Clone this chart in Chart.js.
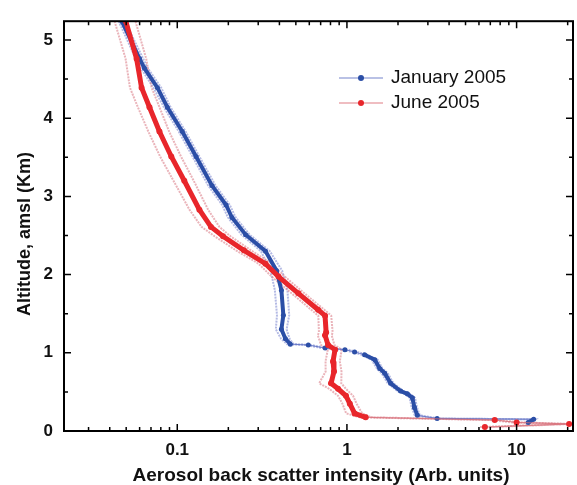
<!DOCTYPE html>
<html lang="en">
<head>
<meta charset="UTF-8">
<title>Aerosol back scatter profiles</title>
<script src="https://cdn.jsdelivr.net/npm/chart.js"></script>
<style>
    body { margin: 0; background: #fff; }
    canvas { display: block; }
</style>
</head>
<body>
<canvas id="profileChart" width="577" height="485"></canvas>
<script>
    // January 2005 profile (altitude in km, intensity in arb. units)
    const janAlt = [5.35, 5.24, 4.76, 4.64, 4.39, 4.14, 3.83, 3.51, 3.14, 2.89, 2.73, 2.51, 2.30, 2.05, 1.80, 1.48, 1.30, 1.18, 1.11, 1.10, 1.06, 1.04, 1.01, 0.975, 0.91, 0.80, 0.74, 0.61, 0.51, 0.475, 0.425, 0.30, 0.20, 0.16, 0.15, 0.11];
    const janVal = [0.045, 0.0471, 0.060, 0.064, 0.0764, 0.0874, 0.107, 0.129, 0.160, 0.194, 0.210, 0.253, 0.331, 0.385, 0.411, 0.422, 0.411, 0.434, 0.464, 0.592, 0.744, 0.973, 1.11, 1.27, 1.46, 1.56, 1.67, 1.81, 2.07, 2.27, 2.43, 2.50, 2.60, 3.40, 12.6, 11.7];
    const janErr = [0.002, 0.002, 0.003, 0.003, 0.004, 0.004, 0.005, 0.006, 0.008, 0.010, 0.011, 0.014, 0.020, 0.030, 0.035, 0.035, 0.030, 0.025, 0.02, 0.02, 0.03, 0.04, 0.04, 0.05, 0.06, 0.06, 0.07, 0.07, 0.08, 0.08, 0.09, 0.09, 0.09, 0.1, 0.3, 0.3];

    // June 2005 profile
    const junAlt = [5.35, 5.24, 4.76, 4.39, 4.14, 3.83, 3.51, 3.20, 2.83, 2.61, 2.49, 2.31, 2.14, 1.975, 1.76, 1.55, 1.475, 1.26, 1.225, 1.10, 1.04, 0.89, 0.76, 0.61, 0.54, 0.45, 0.35, 0.225, 0.175, 0.14, 0.11, 0.09, 0.05];
    const junVal = [0.048, 0.0497, 0.0576, 0.0616, 0.0686, 0.0785, 0.0922, 0.110, 0.135, 0.158, 0.186, 0.247, 0.331, 0.395, 0.517, 0.676, 0.743, 0.754, 0.743, 0.774, 0.851, 0.828, 0.839, 0.806, 0.886, 0.987, 1.04, 1.11, 1.29, 7.43, 10.0, 20.4, 6.50];
    const junErr = [0.007, 0.007, 0.008, 0.009, 0.010, 0.011, 0.013, 0.015, 0.017, 0.019, 0.020, 0.025, 0.030, 0.035, 0.045, 0.06, 0.065, 0.07, 0.07, 0.07, 0.08, 0.08, 0.09, 0.12, 0.10, 0.10, 0.10, 0.12, 0.10, 0.5, 0.6, 1.0, 0.5];

    const seriesNames = ['January 2005', 'June 2005'];
    const xTickValues = [0.1, 1, 10];
    const yTickValues = [0, 1, 2, 3, 4, 5];
    const xTitle = 'Aerosol back scatter intensity (Arb. units)';
    const yTitle = 'Altitude, amsl (Km)';

    const BLUE = '#2b4ea6';
    const RED = '#e8262b';
    const FONT = '"Liberation Sans", Arial, sans-serif';

    function toPoints(vals, alts) {
        return vals.map((v, i) => ({ x: v, y: alts[i] }));
    }

    // thin connecting line where the profile jumps sideways
    function isJump(ctx) {
        const dx = Math.abs(ctx.p1.x - ctx.p0.x);
        const dy = Math.abs(ctx.p1.y - ctx.p0.y);
        return dx > 6 && dy < 0.35 * dx;
    }

    function mainSet(label, vals, alts, color, thin, width, radius, order) {
        return {
            label: label,
            data: toPoints(vals, alts),
            showLine: true,
            borderColor: color,
            backgroundColor: color,
            borderWidth: width,
            pointRadius: radius,
            pointBorderWidth: 0,
            order: order,
            segment: {
                borderWidth: ctx => isJump(ctx) ? 1 : undefined,
                borderColor: ctx => isJump(ctx) ? thin : undefined
            }
        };
    }

    // error envelope edge (value +/- error)
    function bandSet(vals, alts, errs, sign, line, order) {
        return {
            label: '_band',
            data: toPoints(vals.map((v, i) => v + sign * errs[i]), alts),
            showLine: true,
            borderColor: line,
            borderWidth: 2,
            borderDash: [2, 1],
            pointRadius: 0,
            order: order
        };
    }

    // inward ticks on all four sides, frame, titles and legend
    const frameTicks = {
        id: 'frameTicks',
        afterDraw(chart) {
            const { ctx, chartArea: a, scales } = chart;
            const xs = scales.x, ys = scales.y;
            ctx.save();
            ctx.strokeStyle = '#000';
            ctx.lineWidth = 1.5;
            ctx.beginPath();
            const xMinor = [];
            [0.01, 0.1, 1, 10].forEach(d => {
                for (let k = 2; k <= 9; k++) xMinor.push(d * k);
            });
            xMinor.filter(v => v > xs.min && v < xs.max).forEach(v => {
                const p = xs.getPixelForValue(v);
                ctx.moveTo(p, a.bottom); ctx.lineTo(p, a.bottom - 4);
                ctx.moveTo(p, a.top); ctx.lineTo(p, a.top + 4);
            });
            xTickValues.forEach(v => {
                const p = xs.getPixelForValue(v);
                ctx.moveTo(p, a.bottom); ctx.lineTo(p, a.bottom - 7);
                ctx.moveTo(p, a.top); ctx.lineTo(p, a.top + 7);
            });
            yTickValues.forEach(v => {
                const p = ys.getPixelForValue(v);
                ctx.moveTo(a.left, p); ctx.lineTo(a.left + 7, p);
                ctx.moveTo(a.right, p); ctx.lineTo(a.right - 7, p);
                const m = ys.getPixelForValue(v + 0.5);
                if (v + 0.5 < ys.max) {
                    ctx.moveTo(a.left, m); ctx.lineTo(a.left + 4, m);
                    ctx.moveTo(a.right, m); ctx.lineTo(a.right - 4, m);
                }
            });
            ctx.stroke();
            ctx.lineWidth = 2;
            ctx.strokeRect(a.left, a.top, a.right - a.left, a.bottom - a.top);

            // axis titles
            ctx.fillStyle = '#111';
            ctx.textAlign = 'center';
            ctx.textBaseline = 'middle';
            ctx.font = 'bold 19px ' + FONT;
            ctx.fillText(xTitle, 321, 476);
            ctx.save();
            ctx.translate(25, 234);
            ctx.rotate(-Math.PI / 2);
            ctx.font = 'bold 18px ' + FONT;
            ctx.fillText(yTitle, 0, 0);
            ctx.restore();

            // legend inside the plot
            const colors = [BLUE, RED];
            const lines = ['rgba(80,100,190,0.8)', 'rgba(215,90,100,0.8)'];
            ctx.textAlign = 'left';
            ctx.font = '19px ' + FONT;
            seriesNames.forEach((name, i) => {
                const y = 78 + i * 25;
                ctx.strokeStyle = lines[i];
                ctx.lineWidth = 1.2;
                ctx.beginPath();
                ctx.moveTo(339, y); ctx.lineTo(383, y);
                ctx.stroke();
                ctx.fillStyle = colors[i];
                ctx.beginPath();
                ctx.arc(361, y, 3, 0, Math.PI * 2);
                ctx.fill();
                ctx.fillStyle = '#111';
                ctx.fillText(name, 391, y);
            });
            ctx.restore();
        }
    };

    const tickFont = { family: FONT, size: 17, weight: 'bold' };

    new Chart(document.getElementById('profileChart'), {
        type: 'scatter',
        data: {
            datasets: [
                mainSet(seriesNames[1], junVal, junAlt, RED, 'rgba(215,110,120,0.8)', 5, 3, 0),
                mainSet(seriesNames[0], janVal, janAlt, BLUE, 'rgba(90,110,195,0.8)', 4, 2.5, 1),
                bandSet(junVal, junAlt, junErr, -1, 'rgba(220,130,140,0.6)', 2),
                bandSet(junVal, junAlt, junErr, 1, 'rgba(220,130,140,0.6)', 3),
                bandSet(janVal, janAlt, janErr, -1, 'rgba(130,140,210,0.6)', 4),
                bandSet(janVal, janAlt, janErr, 1, 'rgba(130,140,210,0.6)', 5)
            ]
        },
        options: {
            responsive: false,
            animation: false,
            layout: { padding: { top: 12, right: 1, left: 0, bottom: 0 } },
            plugins: {
                legend: { display: false },
                tooltip: { enabled: false }
            },
            scales: {
                x: {
                    type: 'logarithmic',
                    min: 0.0215,
                    max: 21.5,
                    grid: { display: false, drawTicks: false },
                    border: { display: false },
                    afterBuildTicks: s => { s.ticks = xTickValues.map(v => ({ value: v })); },
                    afterFit: s => { s.height = 54; },
                    ticks: {
                        font: tickFont,
                        color: '#111',
                        padding: 9,
                        maxRotation: 0,
                        callback: v => String(v)
                    }
                },
                y: {
                    min: 0,
                    max: 5.24,
                    grid: { display: false, drawTicks: false },
                    border: { display: false },
                    afterBuildTicks: s => { s.ticks = yTickValues.map(v => ({ value: v })); },
                    afterFit: s => { s.width = 64; },
                    ticks: {
                        font: tickFont,
                        color: '#111',
                        padding: 11
                    }
                }
            }
        },
        plugins: [frameTicks]
    });
</script>
</body>
</html>
